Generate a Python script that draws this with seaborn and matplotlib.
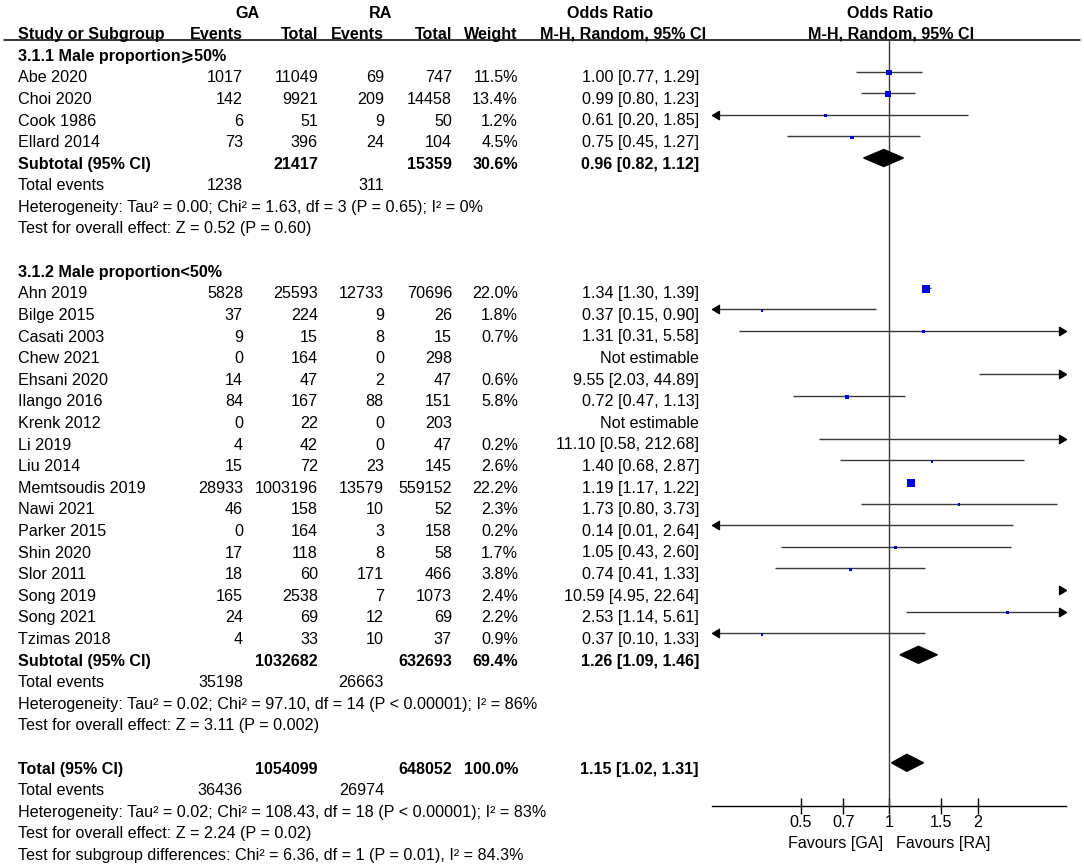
import numpy as np
import pandas as pd
import matplotlib
matplotlib.use('Agg')
import matplotlib.pyplot as plt
import seaborn as sns
from matplotlib.path import Path
from matplotlib.ticker import NullLocator

# ---- data ----
g1_studies = ['Abe 2020', 'Choi 2020', 'Cook 1986', 'Ellard 2014']
g1_ga_events = [1017, 142, 6, 73]
g1_ga_total = [11049, 9921, 51, 396]
g1_ra_events = [69, 209, 9, 24]
g1_ra_total = [747, 14458, 50, 104]
g1_weight = [11.5, 13.4, 1.2, 4.5]
g1_or = [1.00, 0.99, 0.61, 0.75]
g1_lo = [0.77, 0.80, 0.20, 0.45]
g1_hi = [1.29, 1.23, 1.85, 1.27]

g2_studies = ['Ahn 2019', 'Bilge 2015', 'Casati 2003', 'Chew 2021', 'Ehsani 2020', 'Ilango 2016',
              'Krenk 2012', 'Li 2019', 'Liu 2014', 'Memtsoudis 2019', 'Nawi 2021', 'Parker 2015',
              'Shin 2020', 'Slor 2011', 'Song 2019', 'Song 2021', 'Tzimas 2018']
g2_ga_events = [5828, 37, 9, 0, 14, 84, 0, 4, 15, 28933, 46, 0, 17, 18, 165, 24, 4]
g2_ga_total = [25593, 224, 15, 164, 47, 167, 22, 42, 72, 1003196, 158, 164, 118, 60, 2538, 69, 33]
g2_ra_events = [12733, 9, 8, 0, 2, 88, 0, 0, 23, 13579, 10, 3, 8, 171, 7, 12, 10]
g2_ra_total = [70696, 26, 15, 298, 47, 151, 203, 47, 145, 559152, 52, 158, 58, 466, 1073, 69, 37]
g2_weight = [22.0, 1.8, 0.7, np.nan, 0.6, 5.8, np.nan, 0.2, 2.6, 22.2, 2.3, 0.2, 1.7, 3.8, 2.4, 2.2, 0.9]
g2_or = [1.34, 0.37, 1.31, np.nan, 9.55, 0.72, np.nan, 11.10, 1.40, 1.19, 1.73, 0.14, 1.05, 0.74, 10.59, 2.53, 0.37]
g2_lo = [1.30, 0.15, 0.31, np.nan, 2.03, 0.47, np.nan, 0.58, 0.68, 1.17, 0.80, 0.01, 0.43, 0.41, 4.95, 1.14, 0.10]
g2_hi = [1.39, 0.90, 5.58, np.nan, 44.89, 1.13, np.nan, 212.68, 2.87, 1.22, 3.73, 2.64, 2.60, 1.33, 22.64, 5.61, 1.33]

# pooled rows: subgroup 1, subgroup 2, overall
pooled_labels = ['Subtotal (95% CI)', 'Subtotal (95% CI)', 'Total (95% CI)']
pooled_ga_total = [21417, 1032682, 1054099]
pooled_ra_total = [15359, 632693, 648052]
pooled_weight = ['30.6%', '69.4%', '100.0%']
pooled_or = [0.96, 1.26, 1.15]
pooled_lo = [0.82, 1.09, 1.02]
pooled_hi = [1.12, 1.46, 1.31]
pooled_ga_events = [1238, 35198, 36436]
pooled_ra_events = [311, 26663, 26974]
heterogeneity = ['Heterogeneity: Tau² = 0.00; Chi² = 1.63, df = 3 (P = 0.65); I² = 0%',
                 'Heterogeneity: Tau² = 0.02; Chi² = 97.10, df = 14 (P < 0.00001); I² = 86%',
                 'Heterogeneity: Tau² = 0.02; Chi² = 108.43, df = 18 (P < 0.00001); I² = 83%']
overall_effect = ['Test for overall effect: Z = 0.52 (P = 0.60)',
                  'Test for overall effect: Z = 3.11 (P = 0.002)',
                  'Test for overall effect: Z = 2.24 (P = 0.02)']
subgroup_test = 'Test for subgroup differences: Chi² = 6.36, df = 1 (P = 0.01), I² = 84.3%'
group_titles = ['3.1.1 Male proportion⩾50%', '3.1.2 Male proportion<50%']

xticks = [0.5, 0.7, 1, 1.5, 2]
xtick_labels = ['0.5', '0.7', '1', '1.5', '2']

# ---- layout ----
W, H = 1084, 864
FS = 11.6
TOP, PITCH = 55, 21.6
def row_y(i):
    return TOP + PITCH * i

COL = {'label': 18, 'ga_ev': 243, 'ga_tot': 318, 'ra_ev': 384, 'ra_tot': 452, 'w': 518, 'or': 699}
LINE_C = '#3a3a3a'

def fmt_ci(o, l, h):
    return f'{o:.2f} [{l:.2f}, {h:.2f}]'

g1 = pd.DataFrame({'study': g1_studies, 'ga_ev': g1_ga_events, 'ga_tot': g1_ga_total,
                   'ra_ev': g1_ra_events, 'ra_tot': g1_ra_total, 'weight': g1_weight,
                   'or': g1_or, 'lo': g1_lo, 'hi': g1_hi})
g1['row'] = np.arange(1, 1 + len(g1))
g2 = pd.DataFrame({'study': g2_studies, 'ga_ev': g2_ga_events, 'ga_tot': g2_ga_total,
                   'ra_ev': g2_ra_events, 'ra_tot': g2_ra_total, 'weight': g2_weight,
                   'or': g2_or, 'lo': g2_lo, 'hi': g2_hi})
g2['row'] = np.arange(11, 11 + len(g2))
df = pd.concat([g1, g2], ignore_index=True)
df['y_text'] = row_y(df['row'])
df['y_mark'] = df['y_text'] - 5

pooled_rows = [5, 28, 33]

sns.set_theme(style='white')
plt.rcParams['font.family'] = ['Liberation Sans', 'DejaVu Sans']

fig = plt.figure(figsize=(W / 100, H / 100), dpi=100)
tx = fig.add_axes([0, 0, 1, 1])
tx.set_xlim(0, W)
tx.set_ylim(H, 0)
tx.axis('off')

def put(x, y, s, ha='right', bold=False):
    tx.text(x, y + 5.7, s, ha=ha, va='baseline', fontsize=FS,
            fontweight='bold' if bold else 'normal', color='black')

# headers
put(247, 12.7, 'GA', ha='center', bold=True)
put(381, 12.7, 'RA', ha='center', bold=True)
put(610, 12.7, 'Odds Ratio', ha='center', bold=True)
put(890, 12.7, 'Odds Ratio', ha='center', bold=True)
put(COL['label'], 33, 'Study or Subgroup', ha='left', bold=True)
put(COL['ga_ev'], 33, 'Events', bold=True)
put(COL['ga_tot'], 33, 'Total', bold=True)
put(COL['ra_ev'], 33, 'Events', bold=True)
put(COL['ra_tot'], 33, 'Total', bold=True)
put(COL['w'], 33, 'Weight', bold=True)
put(706, 33, 'M-H, Random, 95% CI', bold=True)
put(891, 33, 'M-H, Random, 95% CI', ha='center', bold=True)
tx.plot([4, 1080], [40, 40], color='black', lw=1.1)

# group titles
put(COL['label'], row_y(0), group_titles[0], ha='left', bold=True)
put(COL['label'], row_y(10), group_titles[1], ha='left', bold=True)

# study rows
for _, r in df.iterrows():
    y = r['y_text']
    put(COL['label'], y, r['study'], ha='left')
    put(COL['ga_ev'], y, str(r['ga_ev']))
    put(COL['ga_tot'], y, str(r['ga_tot']))
    put(COL['ra_ev'], y, str(r['ra_ev']))
    put(COL['ra_tot'], y, str(r['ra_tot']))
    if np.isnan(r['or']):
        put(COL['or'], y, 'Not estimable')
    else:
        put(COL['w'], y, f"{r['weight']:.1f}%")
        put(COL['or'], y, fmt_ci(r['or'], r['lo'], r['hi']))

# pooled rows and summaries
for k, pr in enumerate(pooled_rows):
    y = row_y(pr)
    put(COL['label'], y, pooled_labels[k], ha='left', bold=True)
    put(COL['ga_tot'], y, str(pooled_ga_total[k]), bold=True)
    put(COL['ra_tot'], y, str(pooled_ra_total[k]), bold=True)
    put(COL['w'], y, pooled_weight[k], bold=True)
    put(COL['or'], y, fmt_ci(pooled_or[k], pooled_lo[k], pooled_hi[k]), bold=True)
    put(COL['label'], row_y(pr + 1), 'Total events', ha='left')
    put(COL['ga_ev'], row_y(pr + 1), str(pooled_ga_events[k]))
    put(COL['ra_ev'], row_y(pr + 1), str(pooled_ra_events[k]))
    put(COL['label'], row_y(pr + 2), heterogeneity[k], ha='left')
    put(COL['label'], row_y(pr + 3), overall_effect[k], ha='left')
put(COL['label'], row_y(37), subgroup_test, ha='left')

put(883, 842, 'Favours [GA]')
put(896, 842, 'Favours [RA]', ha='left')

# ---- forest panel ----
XMIN, XMAX = 0.25, 4
ax = fig.add_axes([712 / W, 0, (1066 - 712) / W, 1])
ax.patch.set_visible(False)
ax.set_xscale('log')
ax.set_xlim(XMIN, XMAX)
ax.set_ylim(H, 0)
for s in ['top', 'left', 'right']:
    ax.spines[s].set_visible(False)
ax.spines['bottom'].set_position(('data', 806))
ax.spines['bottom'].set_color('black')
ax.spines['bottom'].set_linewidth(1.0)
ax.set_xticks(xticks)
ax.set_xticklabels(xtick_labels)
ax.xaxis.set_minor_locator(NullLocator())
ax.set_yticks([])
ax.tick_params(axis='x', direction='inout', length=11, width=1.0, colors='black',
               labelsize=FS, pad=1, bottom=True)
ax.grid(False)

ax.plot([1, 1], [40, 806], color=LINE_C, lw=1.0, zorder=1)

right_head = Path([(0, 0), (-1, 0.6), (-1, -0.6), (0, 0)])
left_head = Path([(0, 0), (1, 0.6), (1, -0.6), (0, 0)])

est = df.dropna(subset=['or'])
for _, r in est.iterrows():
    y = r['y_mark']
    lo = max(r['lo'], XMIN)
    hi = min(r['hi'], XMAX)
    if lo < hi:
        ax.plot([lo, hi], [y, y], color=LINE_C, lw=1.0, zorder=2, solid_capstyle='butt')
    if r['hi'] > XMAX:
        ax.plot([XMAX], [y], marker=right_head, markersize=10, color='black',
                linestyle='none', zorder=3, clip_on=False)
    if r['lo'] < XMIN:
        ax.plot([XMIN], [y], marker=left_head, markersize=10, color='black',
                linestyle='none', zorder=3, clip_on=False)

# squares sized by weight
boxes = est[(est['or'] > XMIN) & (est['or'] < XMAX)].copy()
side_px = np.maximum(2.8, 1.7 * np.sqrt(boxes['weight']))
boxes['area'] = (side_px * 0.72) ** 2
boxes['y_box'] = boxes['y_mark'] + 1
sns.scatterplot(data=boxes, x='or', y='y_box', size='area',
                sizes=(boxes['area'].min(), boxes['area'].max()),
                size_norm=(boxes['area'].min(), boxes['area'].max()),
                marker='s', color='#0000dd', linewidth=0, legend=False, ax=ax, zorder=4)

# diamonds for pooled estimates
for k, pr in enumerate(pooled_rows):
    yc = row_y(pr) - 5
    ax.fill([pooled_lo[k], pooled_or[k], pooled_hi[k], pooled_or[k]],
            [yc, yc - 8.5, yc, yc + 8.5], color='black', zorder=5)

ax.set_xlabel('')
ax.set_ylabel('')
fig.savefig('out.png', dpi=100)
